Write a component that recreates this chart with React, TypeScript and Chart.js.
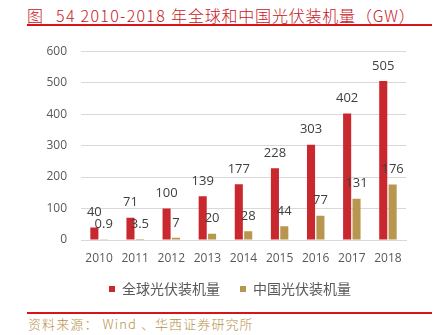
import React, { useEffect, useRef } from "react";
import { Chart, registerables } from "chart.js";

Chart.register(...registerables);

const years = ["2010", "2011", "2012", "2013", "2014", "2015", "2016", "2017", "2018"];
const globalPV = [40, 71, 100, 139, 177, 228, 303, 402, 505];
const chinaPV = [0.9, 3.5, 7, 20, 28, 44, 77, 131, 176];
const yTicks = [0, 100, 200, 300, 400, 500, 600];
const seriesNames = ["全球光伏装机量", "中国光伏装机量"];
const titleParts = ["图", "54 2010-2018", "年全球和中国光伏装机量（GW）"];
const sourceText = "资料来源： Wind 、华西证券研究所";

const RED = "#C8282E";
const GOLD = "#B8964F";

const labelPlugin = {
  id: "barLabels",
  afterDatasetsDraw(chart: any) {
    const ctx = chart.ctx;
    ctx.save();
    ctx.font = "13px 'Open Sans'";
    ctx.fillStyle = "#404040";
    ctx.textAlign = "center";
    ctx.textBaseline = "middle";
    chart.data.datasets.forEach((ds: any, di: number) => {
      const meta = chart.getDatasetMeta(di);
      meta.data.forEach((el: any, i: number) => {
        const v = ds.data[i];
        ctx.fillText(String(v), el.x, el.y - 15);
      });
    });
    ctx.restore();
  },
};

const legendShift = {
  id: "legendShift",
  afterLayout(chart: any) {
    const lg = chart.legend;
    if (lg) {
      lg.left += 27;
      lg.right += 27;
      lg.top -= 8;
      lg.bottom -= 8;
    }
  },
};

export default function App() {
  const ref = useRef<HTMLCanvasElement | null>(null);
  useEffect(() => {
    if (!ref.current) return;
    const chart = new Chart(ref.current, {
      type: "bar",
      data: {
        labels: years,
        datasets: [
          {
            label: seriesNames[0],
            data: globalPV,
            backgroundColor: RED,
            categoryPercentage: 0.52,
            barPercentage: 0.86,
          },
          {
            label: seriesNames[1],
            data: chinaPV,
            backgroundColor: GOLD,
            categoryPercentage: 0.52,
            barPercentage: 0.86,
          },
        ],
      },
      options: {
        animation: false,
        responsive: false,
        maintainAspectRatio: false,
        layout: { padding: { top: 15, right: 39, left: 0, bottom: 0 } },
        plugins: {
          title: { display: false },
          tooltip: { enabled: false },
          legend: {
            position: "bottom",
            labels: {
              usePointStyle: true,
              pointStyle: "rect",
              boxWidth: 6,
              boxHeight: 6,
              padding: 20,
              color: "#595959",
              font: { family: "'Noto Sans CJK SC'", size: 14 },
            },
          },
        },
        scales: {
          x: {
            grid: { display: false, drawTicks: false },
            border: { display: true, color: "#D9D9D9", width: 1 },
            ticks: {
              color: "#595959",
              font: { family: "'Open Sans'", size: 12 },
              padding: 11,
            },
            afterFit(scale: any) {
              scale.height = 30;
            },
          },
          y: {
            min: 0,
            max: 600,
            afterBuildTicks(scale: any) {
              scale.ticks = yTicks.map((v) => ({ value: v }));
            },
            grid: { color: "#D9D9D9", drawTicks: false },
            border: { display: false },
            ticks: {
              color: "#595959",
              font: { family: "'Open Sans'", size: 12 },
              padding: 14,
            },
            afterFit(scale: any) {
              scale.width = 81;
            },
          },
        },
      },
      plugins: [labelPlugin, legendShift],
    });
    return () => chart.destroy();
  }, []);

  const titleFont: React.CSSProperties = {
    fontFamily: "'Noto Sans CJK SC'",
    fontWeight: 300,
    fontSize: 16,
    color: "#C8161D",
    whiteSpace: "pre",
  };

  return (
    <div style={{ position: "absolute", left: 0, top: 0, width: 445, height: 335, background: "#fff", overflow: "hidden" }}>
      <div style={{ position: "absolute", left: 27, top: 4, lineHeight: "22px", whiteSpace: "nowrap" }}>
        <span style={{ ...titleFont, marginRight: 13 }}>{titleParts[0]}</span>
        <span style={{ ...titleFont, letterSpacing: "1.3px", marginRight: 5 }}>{titleParts[1]}</span>
        <span style={{ ...titleFont, letterSpacing: "0.8px" }}>{titleParts[2]}</span>
      </div>
      <div style={{ position: "absolute", left: 27, top: 24, width: 405, height: 2, background: "#D7141A" }} />
      <div style={{ position: "absolute", left: 27, top: 312, width: 405, height: 2, background: "#D7141A" }} />
      <canvas ref={ref} width={445} height={284} style={{ position: "absolute", left: 0, top: 30, width: 445, height: 284 }} />
      <div
        style={{
          position: "absolute",
          left: 28,
          top: 315,
          fontFamily: "'Noto Sans CJK SC'",
          fontWeight: 300,
          fontSize: 13,
          letterSpacing: "1.1px",
          color: "#B8914A",
          whiteSpace: "nowrap",
          lineHeight: "18px",
        }}
      >
        {sourceText}
      </div>
    </div>
  );
}
